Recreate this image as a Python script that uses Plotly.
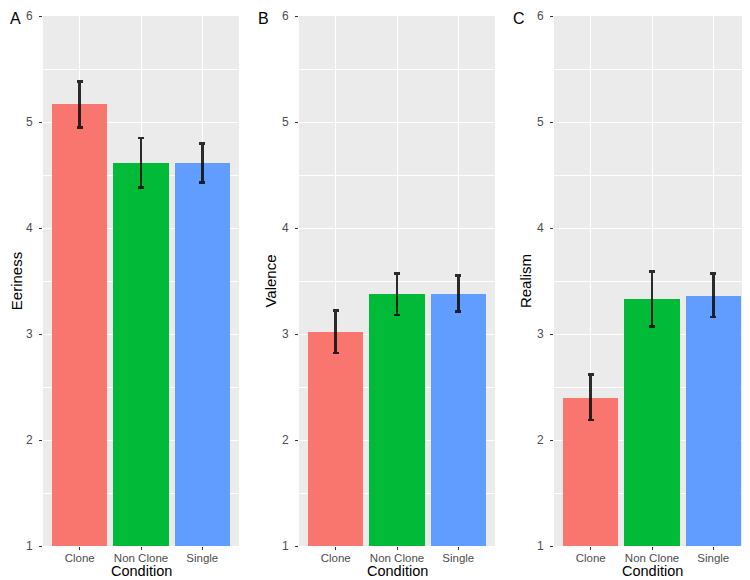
import plotly.graph_objects as go
from plotly.subplots import make_subplots

conditions = ['Clone', 'Non Clone', 'Single']
colors = ['#F8766D', '#00BA38', '#619CFF']

panels = ['A', 'B', 'C']
measures = ['Eeriness', 'Valence', 'Realism']

eeriness_mean = [5.17, 4.61, 4.61]
eeriness_low = [4.95, 4.38, 4.43]
eeriness_high = [5.38, 4.85, 4.80]

valence_mean = [3.02, 3.375, 3.38]
valence_low = [2.82, 3.18, 3.21]
valence_high = [3.22, 3.57, 3.55]

realism_mean = [2.40, 3.33, 3.36]
realism_low = [2.19, 3.07, 3.16]
realism_high = [2.62, 3.59, 3.57]

means = [eeriness_mean, valence_mean, realism_mean]
lows = [eeriness_low, valence_low, realism_low]
highs = [eeriness_high, valence_high, realism_high]

# the page keeps an 8px body margin, so shrink the figure and shift coords
OFF = 8
W, H = 750 - OFF, 580 - OFF


def px_x(x):
    return (x - OFF) / W


def px_y(y):
    return 1 - (y - OFF) / H


x_doms = [(43, 239), (299, 495), (554, 750)]
label_x = [8, 256, 511]
y_dom = [px_y(546), px_y(16)]

fig = make_subplots(rows=1, cols=3)

for i in range(3):
    m, lo, hi = means[i], lows[i], highs[i]
    fig.add_trace(go.Bar(
        x=conditions, y=m,
        marker=dict(color=colors, line=dict(width=0)),
        width=0.9,
        error_y=dict(
            type='data', symmetric=False,
            array=[h - v for h, v in zip(hi, m)],
            arrayminus=[v - l for v, l in zip(m, lo)],
            color='rgba(15,15,15,0.88)', thickness=2.6, width=3,
        ),
        showlegend=False,
    ), row=1, col=i + 1)

    ax = '' if i == 0 else str(i + 1)
    x0, x1 = x_doms[i]
    fig.layout['xaxis' + ax].update(
        domain=[px_x(x0), min(px_x(x1), 1)], range=[-0.6, 2.6],
        automargin=False,
        showgrid=True, gridcolor='white', gridwidth=1.1,
        ticks='outside', ticklen=3, tickcolor='#333333', tickwidth=1.1,
        ticklabelstandoff=-2,
        tickfont=dict(size=11.5, color='#4D4D4D'),
        zeroline=False,
    )
    fig.layout['yaxis' + ax].update(
        domain=y_dom, range=[1, 6], dtick=1,
        automargin=False,
        showgrid=True, gridcolor='white', gridwidth=1.1,
        minor=dict(dtick=0.5, showgrid=True, gridcolor='white', gridwidth=0.5),
        ticks='outside', ticklen=3, tickcolor='#333333', tickwidth=1.1,
        ticklabelstandoff=4,
        tickfont=dict(size=12, color='#4D4D4D'),
        title=dict(text=measures[i], font=dict(size=15, color='black'), standoff=1),
        zeroline=False,
    )
    # x-axis title placed by hand (margins are zero, so standoff is clamped)
    fig.add_annotation(
        text='Condition', xref='paper', yref='paper',
        x=px_x((x0 + x1) / 2), y=0, xanchor='center', yanchor='bottom',
        borderpad=0, showarrow=False, font=dict(size=14.5, color='black'),
    )
    fig.add_annotation(
        text=panels[i], xref='paper', yref='paper',
        x=px_x(label_x[i]), y=1, xanchor='left', yanchor='top',
        showarrow=False, font=dict(size=16, color='black'),
    )

fig.update_layout(
    width=W, height=H,
    margin=dict(l=0, r=0, t=0, b=0),
    paper_bgcolor='white', plot_bgcolor='#EBEBEB',
    font=dict(family='Liberation Sans, Arial, sans-serif'),
    bargap=0,
)

fig.write_html('out.html')
